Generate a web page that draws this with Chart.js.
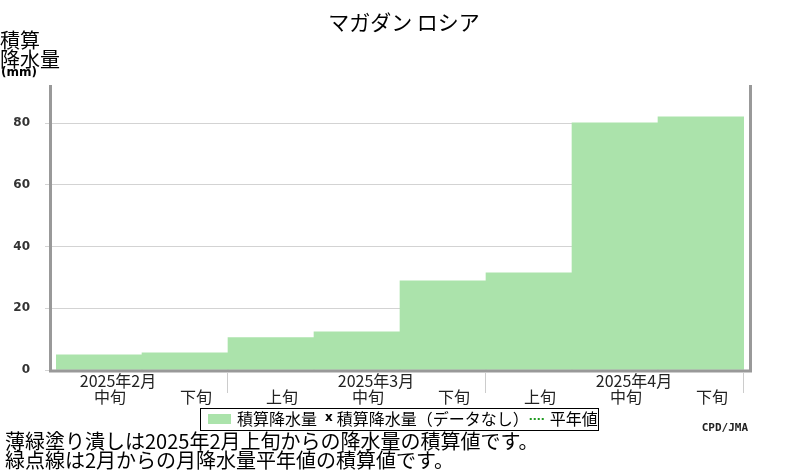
<!DOCTYPE html>
<html lang="ja">
<head>
<meta charset="utf-8">
<script src="https://cdn.jsdelivr.net/npm/chart.js@4.4.1/dist/chart.umd.min.js"></script>
<style>
  html, body { margin: 0; padding: 0; background: #fff; }
</style>
</head>
<body>
<canvas id="chart" width="800" height="470"></canvas>
<script>
'use strict'

const months = ['2025年2月', '', '', '2025年3月', '', '', '2025年4月', '']
const periods = ['中旬', '下旬', '上旬', '中旬', '下旬', '上旬', '中旬', '下旬']
const precipSum = [4.9, 5.6, 10.5, 12.4, 28.9, 31.5, 80.1, 82.1]
const yTicks = [0, 20, 40, 60, 80]
const legendNames = ['積算降水量', '積算降水量（データなし）', '平年値']
const notes = [
  '薄緑塗り潰しは2025年2月上旬からの降水量の積算値です。',
  '緑点線は2月からの月降水量平年値の積算値です。'
]

const JP = '"Noto Sans CJK JP", "Noto Sans", sans-serif'
const GREEN = '#abe3ab'

// frame, separators, titles, legend box and notes
const decor = {
  id: 'decor',
  afterDraw(chart) {
    const { ctx, chartArea: a, scales } = chart
    const x = scales.x
    ctx.save()

    // grey frame: left, bottom, right
    ctx.strokeStyle = '#999'
    ctx.lineWidth = 3
    ctx.lineJoin = 'miter'
    ctx.beginPath()
    ctx.moveTo(a.left - 5.5, a.top)
    ctx.lineTo(a.left - 5.5, a.bottom + 1)
    ctx.lineTo(a.right + 6.5, a.bottom + 1)
    ctx.lineTo(a.right + 6.5, a.top)
    ctx.stroke()

    // month separators under the axis
    const half = (x.getPixelForValue(1) - x.getPixelForValue(0)) / 2
    const seps = []
    periods.forEach((p, i) => {
      if (p === '上旬') seps.push(x.getPixelForValue(i) - half)
    })
    seps.push(x.getPixelForValue(periods.length - 1) + half)
    ctx.strokeStyle = '#ccc'
    ctx.lineWidth = 1
    seps.forEach((px) => {
      const xx = Math.round(px) - 0.5
      ctx.beginPath()
      ctx.moveTo(xx, a.bottom + 3)
      ctx.lineTo(xx, a.bottom + 23)
      ctx.stroke()
    })

    ctx.fillStyle = '#000'
    ctx.textBaseline = 'middle'

    // title
    ctx.font = '21px ' + JP
    ctx.textAlign = 'center'
    ctx.fillText('マガダン ロシア', 404, 22)

    // y axis title
    ctx.textAlign = 'left'
    ctx.font = '20px ' + JP
    ctx.fillText('積算', 0, 40)
    ctx.fillText('降水量', 0, 59)
    ctx.font = 'bold 12px "DejaVu Sans"'
    ctx.fillText('(mm)', 1, 73)

    // legend
    const lx = 201
    const ly = 408
    const my = 419
    ctx.font = '16px ' + JP
    ctx.fillStyle = GREEN
    ctx.fillRect(lx + 7, 414, 23, 10)
    ctx.fillStyle = '#000'
    let cx = lx + 36
    ctx.fillText(legendNames[0], cx, my)
    cx += ctx.measureText(legendNames[0]).width + 8
    ctx.font = 'bold 12px "DejaVu Sans"'
    ctx.fillText('x', cx, my - 1)
    cx += ctx.measureText('x').width + 4
    ctx.font = '16px ' + JP
    ctx.fillText(legendNames[1], cx, my)
    cx += ctx.measureText(legendNames[1]).width + 1
    ctx.save()
    ctx.strokeStyle = '#1f9a1f'
    ctx.lineWidth = 2
    ctx.setLineDash([2, 2])
    ctx.beginPath()
    ctx.moveTo(cx, my)
    ctx.lineTo(cx + 15, my)
    ctx.stroke()
    ctx.restore()
    cx += 20
    ctx.fillText(legendNames[2], cx, my)
    cx += ctx.measureText(legendNames[2]).width + 1
    ctx.strokeStyle = '#000'
    ctx.lineWidth = 1
    ctx.strokeRect(lx - 0.5, ly + 0.5, Math.round(cx - lx), 22)

    // notes
    ctx.font = '20px ' + JP
    ctx.fillText(notes[0], 5, 441)
    ctx.fillText(notes[1], 5, 460)

    // credit
    ctx.font = 'bold 11px "DejaVu Sans Mono"'
    ctx.textAlign = 'right'
    ctx.fillStyle = '#222'
    ctx.fillText('CPD/JMA', 748, 428)

    ctx.restore()
  }
}

new Chart(document.getElementById('chart'), {
  type: 'bar',
  data: {
    labels: periods,
    datasets: [
      {
        label: legendNames[0],
        data: precipSum,
        backgroundColor: GREEN,
        borderWidth: 0,
        barPercentage: 1,
        categoryPercentage: 1
      }
    ]
  },
  options: {
    responsive: false,
    animation: false,
    devicePixelRatio: 1,
    layout: {
      padding: { top: 85, bottom: 65, left: 0, right: 56 }
    },
    scales: {
      x: {
        position: 'bottom',
        weight: 1,
        afterFit(scale) {
          scale.height = 16
        },
        grid: { display: false, drawTicks: false },
        border: { display: false },
        ticks: {
          color: '#222',
          font: { family: 'Noto Sans CJK JP', size: 16, lineHeight: 1 },
          padding: 0,
          labelOffset: 11,
          maxRotation: 0,
          minRotation: 0,
          autoSkip: false
        }
      },
      xMonth: {
        type: 'category',
        labels: months,
        position: 'bottom',
        weight: 0,
        afterFit(scale) {
          scale.height = 19
        },
        grid: { display: false, drawTicks: false },
        border: { display: false },
        ticks: {
          color: '#222',
          font: { family: 'Noto Sans CJK JP', size: 16, lineHeight: 1 },
          padding: 3,
          labelOffset: 19,
          maxRotation: 0,
          minRotation: 0,
          autoSkip: false
        }
      },
      y: {
        min: 0,
        max: 92.4,
        afterFit(scale) {
          scale.width = 56
        },
        afterBuildTicks(scale) {
          scale.ticks = yTicks.map((v) => ({ value: v }))
        },
        grid: {
          color: '#d3d3d3',
          tickLength: 11
        },
        border: { display: false },
        ticks: {
          color: '#333',
          padding: 15,
          font: { family: 'DejaVu Sans', size: 12, weight: 'bold' }
        }
      }
    },
    plugins: {
      legend: { display: false },
      tooltip: { enabled: false }
    }
  },
  plugins: [decor]
})
</script>
</body>
</html>
